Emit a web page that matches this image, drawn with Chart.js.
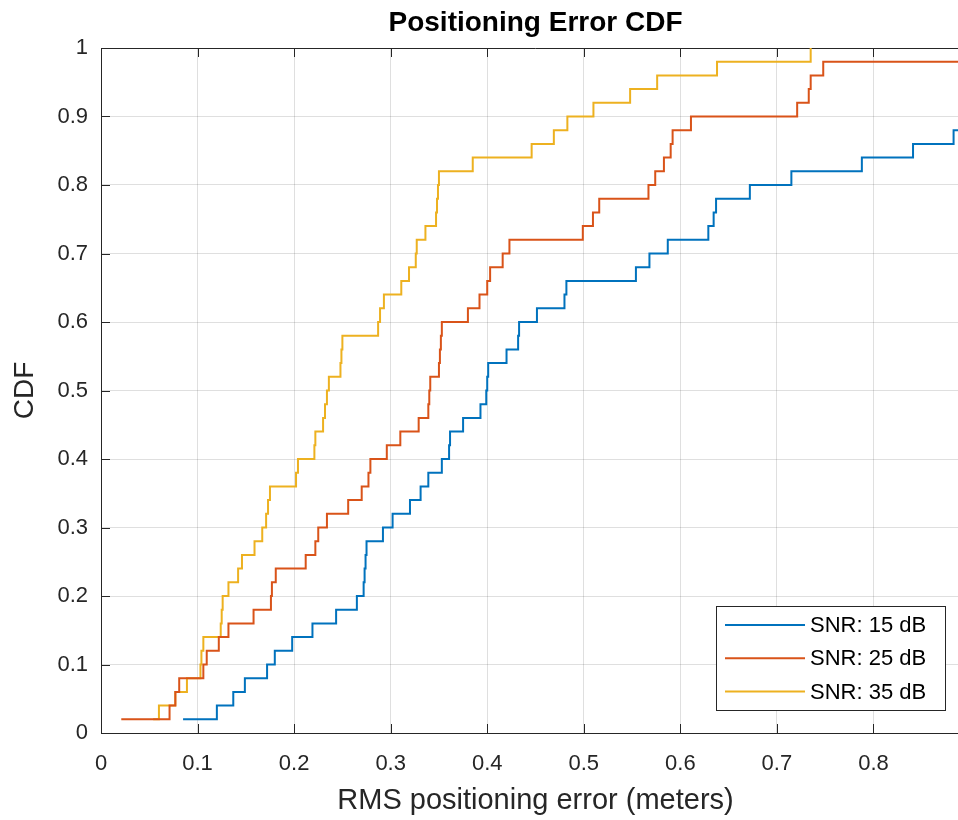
<!DOCTYPE html>
<html>
<head>
<meta charset="utf-8">
<script src="https://cdn.jsdelivr.net/npm/chart.js@4.4.1/dist/chart.umd.min.js"></script>
<style>
  html, body { margin: 0; padding: 0; background: #fff; overflow: hidden; }
  #wrap { width: 958px; height: 820px; overflow: hidden; }
</style>
</head>
<body>
<div id="wrap"><canvas id="cdf" width="970" height="820"></canvas></div>
<script>
// series names and colours (MATLAB default order)
var seriesNames = ['SNR: 15 dB', 'SNR: 25 dB', 'SNR: 35 dB'];
var seriesColors = ['#0072BD', '#D95319', '#EDB120'];

// CDF level reached at each sorted sample
var cdfLevels = [0.02, 0.04, 0.06, 0.08, 0.10, 0.12, 0.14, 0.16, 0.18, 0.20,
                 0.22, 0.24, 0.26, 0.28, 0.30, 0.32, 0.34, 0.36, 0.38, 0.40,
                 0.42, 0.44, 0.46, 0.48, 0.50, 0.52, 0.54, 0.56, 0.58, 0.60,
                 0.62, 0.64, 0.66, 0.68, 0.70, 0.72, 0.74, 0.76, 0.78, 0.80,
                 0.82, 0.84, 0.86, 0.88, 0.90, 0.92, 0.94, 0.96, 0.98, 1.00];

// sorted RMS errors (meters)
var err15 = [0.085, 0.120, 0.137, 0.149, 0.172, 0.180, 0.198, 0.219, 0.2435, 0.265,
             0.272, 0.273, 0.274, 0.275, 0.292, 0.302, 0.320, 0.331, 0.339, 0.353,
             0.3605, 0.3615, 0.375, 0.393, 0.399, 0.400, 0.401, 0.420, 0.432, 0.433,
             0.4515, 0.480, 0.482, 0.554, 0.568, 0.587, 0.629, 0.6345, 0.637, 0.672,
             0.715, 0.788, 0.841, 0.883, 0.95];
var err25 = [0.021, 0.071, 0.077, 0.081, 0.106, 0.1095, 0.122, 0.132, 0.158, 0.176,
             0.177, 0.181, 0.212, 0.222, 0.225, 0.234, 0.256, 0.270, 0.277, 0.279,
             0.296, 0.310, 0.329, 0.339, 0.340, 0.341, 0.350, 0.351, 0.352, 0.353,
             0.380, 0.392, 0.400, 0.403, 0.416, 0.423, 0.499, 0.5095, 0.516, 0.567,
             0.574, 0.583, 0.590, 0.592, 0.611, 0.721, 0.733, 0.735, 0.748, 0.95];
var err35 = [0.054, 0.060, 0.077, 0.089, 0.103, 0.104, 0.106, 0.124, 0.125, 0.126,
             0.132, 0.142, 0.146, 0.159, 0.167, 0.171, 0.173, 0.175, 0.202, 0.204,
             0.221, 0.222, 0.230, 0.232, 0.234, 0.236, 0.248, 0.249, 0.250, 0.287,
             0.289, 0.293, 0.311, 0.319, 0.326, 0.327, 0.336, 0.347, 0.348, 0.349,
             0.350, 0.385, 0.446, 0.469, 0.483, 0.510, 0.548, 0.576, 0.638, 0.735];

var xTicks = [0, 0.1, 0.2, 0.3, 0.4, 0.5, 0.6, 0.7, 0.8];
var yTicks = [0, 0.1, 0.2, 0.3, 0.4, 0.5, 0.6, 0.7, 0.8, 0.9, 1];

var axisColor = '#262626';
var gridColor = 'rgba(38,38,38,0.15)';
Chart.defaults.font.family = '"Liberation Sans", Arial, sans-serif';

function toPoints(xs) {
    return xs.map(function(x, i) { return { x: x, y: cdfLevels[i] }; });
}

var allErrors = [err15, err25, err35];
var datasets = allErrors.map(function(xs, i) {
    return {
        label: seriesNames[i],
        data: toPoints(xs),
        borderColor: seriesColors[i],
        backgroundColor: seriesColors[i],
        borderWidth: 2,
        pointRadius: 0,
        stepped: 'before',
        fill: false
    };
});

// title, top box edge, inward ticks and legend box, matlab style
var matlabAxes = {
    id: 'matlabAxes',
    beforeDatasetsDraw: function(chart) {
        var ctx = chart.ctx, a = chart.chartArea;
        var xs = chart.scales.x, ys = chart.scales.y;
        ctx.save();
        ctx.strokeStyle = axisColor;
        ctx.lineWidth = 1;
        ctx.beginPath();
        ctx.moveTo(a.left, a.top + 0.5);
        ctx.lineTo(a.right, a.top + 0.5);
        xTicks.forEach(function(v) {
            var px = Math.round(xs.getPixelForValue(v)) + 0.5;
            ctx.moveTo(px, a.bottom); ctx.lineTo(px, a.bottom - 9);
            ctx.moveTo(px, a.top); ctx.lineTo(px, a.top + 9);
        });
        yTicks.forEach(function(v) {
            var py = Math.round(ys.getPixelForValue(v)) + 0.5;
            ctx.moveTo(a.left, py); ctx.lineTo(a.left + 9, py);
        });
        ctx.stroke();
        ctx.restore();
    },
    afterDraw: function(chart) {
        var ctx = chart.ctx, a = chart.chartArea;
        ctx.save();
        ctx.fillStyle = '#000';
        ctx.font = 'bold 28px "Liberation Sans", Arial, sans-serif';
        ctx.textAlign = 'center';
        ctx.textBaseline = 'middle';
        ctx.fillText('Positioning Error CDF', (a.left + a.right) / 2, 23);

        // legend
        var bx = 716.5, by = 606.5, bw = 229, bh = 104;
        ctx.fillStyle = '#fff';
        ctx.fillRect(bx, by, bw, bh);
        ctx.strokeStyle = axisColor;
        ctx.lineWidth = 1;
        ctx.strokeRect(bx, by, bw, bh);
        ctx.font = '22px "Liberation Sans", Arial, sans-serif';
        ctx.textAlign = 'left';
        chart.data.datasets.forEach(function(ds, i) {
            var ry = 625 + i * 33.3;
            ctx.strokeStyle = ds.borderColor;
            ctx.lineWidth = 2;
            ctx.beginPath();
            ctx.moveTo(725, ry); ctx.lineTo(805, ry);
            ctx.stroke();
            ctx.fillStyle = '#000';
            ctx.fillText(ds.label, 810, ry + 1);
        });
        ctx.restore();
    }
};

var ctx = document.getElementById('cdf');
var cdfChart = new Chart(ctx, {
    type: 'line',
    data: { datasets: datasets },
    options: {
        responsive: false,
        animation: false,
        layout: { padding: { top: 48, right: 0, bottom: 0, left: 0 } },
        plugins: { legend: { display: false }, tooltip: { enabled: false } },
        scales: {
            x: {
                type: 'linear',
                min: 0,
                max: 0.9,
                afterBuildTicks: function(s) { s.ticks = xTicks.map(function(v) { return { value: v }; }); },
                afterFit: function(s) { s.height = 87; },
                grid: { color: gridColor, drawTicks: false },
                border: { display: true, color: axisColor, width: 1 },
                ticks: { color: axisColor, font: { size: 22 }, padding: 18, maxRotation: 0, autoSkip: false,
                         callback: function(v) { return String(v); } },
                title: { display: true, text: 'RMS positioning error (meters)', color: axisColor,
                         font: { size: 29 }, padding: { top: 0, bottom: 2 } }
            },
            y: {
                type: 'linear',
                min: 0,
                max: 1,
                afterBuildTicks: function(s) { s.ticks = yTicks.map(function(v) { return { value: v }; }); },
                afterFit: function(s) { s.width = 101; },
                grid: { color: gridColor, drawTicks: false },
                border: { display: true, color: axisColor, width: 1 },
                ticks: { color: axisColor, font: { size: 22 }, padding: 13, autoSkip: false,
                         callback: function(v) { return String(v); } },
                title: { display: true, text: 'CDF', color: axisColor,
                         font: { size: 28 }, padding: { top: 8, bottom: 0 } }
            }
        }
    },
    plugins: [matlabAxes]
});
</script>
</body>
</html>
